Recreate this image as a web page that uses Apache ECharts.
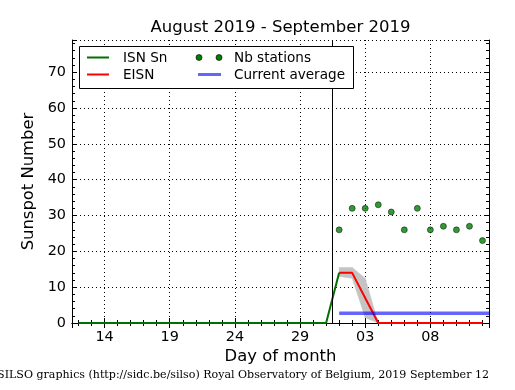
<!DOCTYPE html>
<html><head><meta charset="utf-8">
<script src="https://cdn.jsdelivr.net/npm/echarts@6/dist/echarts.min.js"></script>
<style>html,body{margin:0;padding:0;background:#fff}#c{width:515px;height:390px}</style>
</head><body><div id="c"></div>
<script>
// ---- data ----
const isnDates = ['2019-08-12','2019-08-13','2019-08-14','2019-08-15','2019-08-16','2019-08-17','2019-08-18','2019-08-19','2019-08-20','2019-08-21','2019-08-22','2019-08-23','2019-08-24','2019-08-25','2019-08-26','2019-08-27','2019-08-28','2019-08-29','2019-08-30','2019-08-31','2019-09-01'];
const isnValues = [0,0,0,0,0,0,0,0,0,0,0,0,0,0,0,0,0,0,0,0,14];
const eisnDates = ['2019-09-01','2019-09-02','2019-09-03','2019-09-04','2019-09-05','2019-09-06','2019-09-07','2019-09-08','2019-09-09','2019-09-10','2019-09-11','2019-09-12'];
const eisnValues = [14,14,7,0,0,0,0,0,0,0,0,0];
const bandDates = ['2019-09-01','2019-09-02','2019-09-03','2019-09-04'];
const bandLow = [13,12.5,1.5,0];
const bandHigh = [15.5,15.5,12.5,0];
const stationDates = eisnDates;
const stationCounts = [26,32,32,33,31,26,32,26,27,26,27,23];
const averageStart = '2019-09-01';
const currentAverage = 2.7;
const firstDay = '2019-08-12', lastDay = '2019-09-12', monthStart = '2019-09-01';
const yMax = 79, yStep = 10;
const titleText = 'August 2019 - September 2019';
const footerText = 'SILSO graphics (http://sidc.be/silso) Royal Observatory of Belgium, 2019 September 12';

// ---- helpers ----
const REF = Date.UTC(2019, 6, 30);
function dayNum(s){ const p = s.split('-').map(Number); return (Date.UTC(p[0], p[1]-1, p[2]) - REF) / 864e5; }
function pairs(dates, vals){ return dates.map((d,i)=>[dayNum(d), vals[i]]); }
const xMin = dayNum(firstDay) - 0.5, xMax = dayNum(lastDay) + 0.5;
const boundary = dayNum(monthStart) - 0.5;
const FONT = 'DejaVu Sans';
const bandData = bandDates.map((d,i)=>[dayNum(d), bandLow[i], bandHigh[i]]);

function xLabel(v){
  if (Math.abs(v - Math.round(v)) > 1e-6) return '';
  const d = new Date(REF + v * 864e5);
  return String(d.getUTCDate()).padStart(2, '0');
}

const commonAxis = {
  axisLine:{show:true, lineStyle:{color:'#000', width:1}},
  axisTick:{show:true, inside:true, length:5, lineStyle:{color:'#000', width:1}},
  minorTick:{show:true, splitNumber:5, length:3, lineStyle:{color:'#000', width:1}},
};

const chart = echarts.init(document.getElementById('c'), null, {renderer:'canvas'});
chart.setOption({
  animation:false,
  backgroundColor:'#fff',
  grid:{left:72, right:26, top:40, bottom:67, containLabel:false},
  xAxis:[
    Object.assign({type:'value', min:xMin, max:xMax, position:'bottom',
      axisLabel:{formatter:xLabel, color:'#000', fontFamily:FONT, fontSize:14.4, margin:7, showMinLabel:false, showMaxLabel:false},
      splitLine:{show:true, lineStyle:{color:'#000', width:1, type:[1,3]}},
      name:'Day of month', nameLocation:'middle', nameGap:24,
      nameTextStyle:{color:'#000', fontFamily:FONT, fontSize:16.4}}, commonAxis),
    Object.assign({type:'value', min:xMin, max:xMax, position:'top',
      axisLabel:{show:false}, splitLine:{show:false}}, commonAxis)
  ],
  yAxis:[
    Object.assign({type:'value', min:0, max:yMax, interval:yStep, position:'left',
      axisLabel:{color:'#000', fontFamily:FONT, fontSize:14.4, margin:6, showMaxLabel:false},
      splitLine:{show:true, lineStyle:{color:'#000', width:1, type:[1,3]}},
      name:'Sunspot Number', nameLocation:'middle', nameGap:32, nameRotate:90,
      nameTextStyle:{color:'#000', fontFamily:FONT, fontSize:16.4}}, commonAxis),
    Object.assign({type:'value', min:0, max:yMax, interval:yStep, position:'right',
      axisLabel:{show:false}, splitLine:{show:false}}, commonAxis)
  ],
  series:[
    {type:'custom', name:'band', data:bandData, silent:true, z:2, clip:true,
      encode:{x:0, y:[1,2]},
      renderItem:function(params, api){
        const i = params.dataIndex;
        if (i >= bandData.length - 1) return null;
        const a = bandData[i], b = bandData[i+1];
        const pts = [api.coord([a[0], a[2]]), api.coord([b[0], b[2]]), api.coord([b[0], b[1]]), api.coord([a[0], a[1]])];
        return {type:'polygon', shape:{points:pts}, style:{fill:'#c4c4c4', stroke:'#c4c4c4', lineWidth:0.5}};
      }},
    {type:'line', name:'ISN Sn', data:pairs(isnDates, isnValues), symbol:'none',
      lineStyle:{color:'#007000', width:2}, z:3},
    {type:'line', name:'EISN', data:pairs(eisnDates, eisnValues), symbol:'none',
      lineStyle:{color:'#ff0000', width:2}, z:4},
    {type:'line', name:'Current average', data:[[dayNum(averageStart), currentAverage],[xMax, currentAverage]], symbol:'none',
      lineStyle:{color:'rgba(0,0,255,0.6)', width:3.5}, z:5},
    {type:'scatter', name:'Nb stations', data:pairs(stationDates, stationCounts), symbolSize:6,
      itemStyle:{color:'#008000', borderColor:'#000', borderWidth:0.6}, z:6},
    {type:'line', name:'boundary', data:[], z:7,
      markLine:{silent:true, symbol:'none', label:{show:false}, animation:false,
        lineStyle:{color:'#000', width:1, type:'solid'}, data:[{xAxis:boundary}]}}
  ],
  graphic:[
    {type:'text', x:280.5, y:27.5, z:100, style:{text:titleText, fill:'#000', font:'16.5px "DejaVu Sans"', align:'center', verticalAlign:'middle'}},
    {type:'text', x:489, y:375, z:100, style:{text:footerText, fill:'#000', font:'11.05px "DejaVu Serif"', align:'right', verticalAlign:'middle'}},
    {type:'group', z:100, children:[
      {type:'rect', shape:{x:79.5, y:46.5, width:274, height:42}, style:{fill:'#fff', stroke:'#000', lineWidth:1}, z:100},
      {type:'line', shape:{x1:87, y1:57.5, x2:109, y2:57.5}, style:{stroke:'#007000', lineWidth:2}, z:101},
      {type:'text', x:123, y:58, style:{text:'ISN Sn', fill:'#000', font:'13.6px "DejaVu Sans"', verticalAlign:'middle'}, z:101},
      {type:'line', shape:{x1:87, y1:74.5, x2:109, y2:74.5}, style:{stroke:'#ff0000', lineWidth:2}, z:101},
      {type:'text', x:123, y:75, style:{text:'EISN', fill:'#000', font:'13.6px "DejaVu Sans"', verticalAlign:'middle'}, z:101},
      {type:'circle', shape:{cx:199, cy:57.5, r:3}, style:{fill:'#008000', stroke:'#000', lineWidth:0.6}, z:101},
      {type:'circle', shape:{cx:219, cy:57.5, r:3}, style:{fill:'#008000', stroke:'#000', lineWidth:0.6}, z:101},
      {type:'text', x:234, y:58, style:{text:'Nb stations', fill:'#000', font:'13.6px "DejaVu Sans"', verticalAlign:'middle'}, z:101},
      {type:'line', shape:{x1:198, y1:74.5, x2:221, y2:74.5}, style:{stroke:'rgba(0,0,255,0.6)', lineWidth:3}, z:101},
      {type:'text', x:234, y:75, style:{text:'Current average', fill:'#000', font:'13.6px "DejaVu Sans"', verticalAlign:'middle'}, z:101}
    ]}
  ]
});
</script></body></html>
